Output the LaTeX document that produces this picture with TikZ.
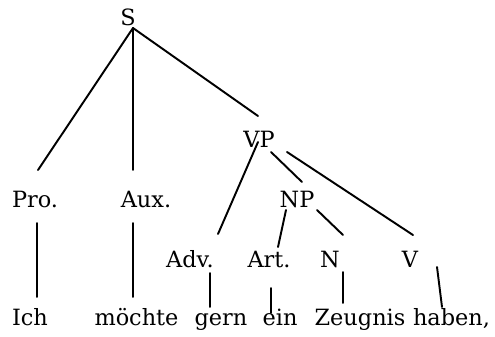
\documentclass[tikz,border=0pt]{standalone}
\usepackage{fontspec}
\setmainfont{DejaVu Serif}
\begin{document}
\begin{tikzpicture}[x=0.75pt,y=-0.75pt,
  lbl/.style={anchor=base,inner sep=0pt,font=\fontsize{16.8}{20}\selectfont},
  edge/.style={line width=1.45pt,line cap=round}]
\useasboundingbox (0,0) rectangle (495,336);
% labels
\node[lbl] (S) at (128,25) {S};
\node[lbl] (VP) at (259,147) {VP};
\node[lbl] (Pro) at (35,207) {Pro.};
\node[lbl] (Aux) at (146,207) {Aux.};
\node[lbl] (NP) at (297,207) {NP};
\node[lbl] (Adv) at (190,267) {Adv.};
\node[lbl] (Art) at (269,267) {Art.};
\node[lbl] (N) at (330,267) {N};
\node[lbl] (V) at (410,267) {V};
\node[lbl] (w1) at (30,325) {Ich};
\node[lbl] (w2) at (136.5,325) {möchte};
\node[lbl] (w3) at (221,325) {gern};
\node[lbl] (w4) at (280,325) {ein};
\node[lbl] (w5) at (360,325) {Zeugnis};
\node[lbl] (w6) at (451.5,325) {haben,};
% connector ends
\coordinate (sS) at (133,28);
\coordinate (tPro) at (38,170);
\coordinate (tAux) at (133,170);
\coordinate (tVP) at (258,116);
\coordinate (sVPa) at (258,142);
\coordinate (sVPb) at (271,152);
\coordinate (sVPc) at (287,152);
\coordinate (tAdv) at (218,234);
\coordinate (tNP) at (302,182);
\coordinate (tV) at (413,235);
\coordinate (sNPa) at (286,210);
\coordinate (sNPb) at (317,210);
\coordinate (tArt) at (278,247);
\coordinate (tN) at (343,235);
\coordinate (sPro) at (37,223);
\coordinate (tw1) at (37,297);
\coordinate (sAux) at (133,223);
\coordinate (tw2) at (133,297);
\coordinate (sAdv) at (210,273);
\coordinate (tw3) at (210,307);
\coordinate (sArt) at (271,288);
\coordinate (tw4) at (271,313);
\coordinate (sN) at (343,272);
\coordinate (tw5) at (343,303);
\coordinate (sV) at (437,267);
\coordinate (tw6) at (442,307);
% connectors
\draw[edge] (sS) -- (tPro);
\draw[edge] (sS) -- (tAux);
\draw[edge] (sS) -- (tVP);
\draw[edge] (sVPa) -- (tAdv);
\draw[edge] (sVPb) -- (tNP);
\draw[edge] (sVPc) -- (tV);
\draw[edge] (sNPa) -- (tArt);
\draw[edge] (sNPb) -- (tN);
\draw[edge] (sPro) -- (tw1);
\draw[edge] (sAux) -- (tw2);
\draw[edge] (sAdv) -- (tw3);
\draw[edge] (sArt) -- (tw4);
\draw[edge] (sN) -- (tw5);
\draw[edge] (sV) -- (tw6);
\end{tikzpicture}
\end{document}
